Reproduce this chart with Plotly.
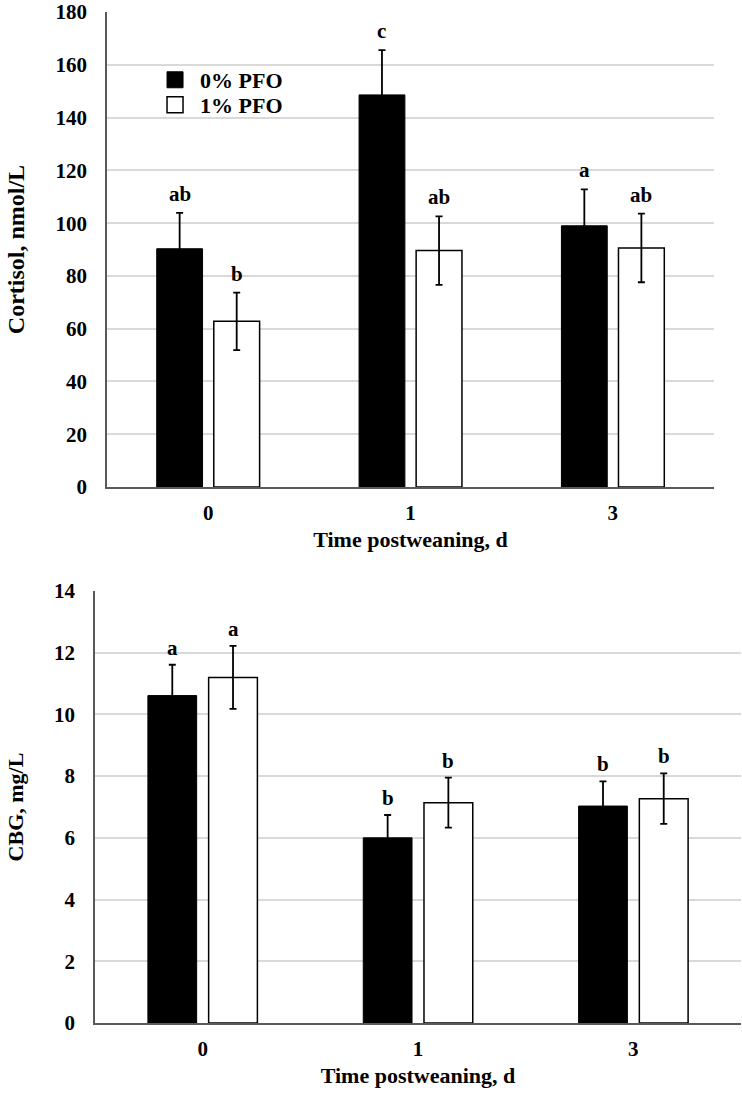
import plotly.graph_objects as go

days = ["0", "1", "3"]
groups = ["0% PFO", "1% PFO"]

cortisol_0 = [90.3, 148.6, 99.0]
cortisol_0_se = [13.6, 17.0, 13.8]
cortisol_1 = [62.8, 89.6, 90.6]
cortisol_1_se = [10.9, 13.0, 13.0]
cortisol_letters_0 = ["ab", "c", "a"]
cortisol_letters_1 = ["b", "ab", "ab"]

cbg_0 = [10.61, 6.0, 7.03]
cbg_0_se = [1.0, 0.74, 0.80]
cbg_1 = [11.2, 7.14, 7.27]
cbg_1_se = [1.02, 0.81, 0.82]
cbg_letters_0 = ["a", "b", "b"]
cbg_letters_1 = ["a", "b", "b"]

FONT = "Liberation Serif, Times New Roman, serif"
AXIS_COLOR = "#595959"
GRID_COLOR = "#d9d9d9"

fig = go.Figure()


def add_bars(vals0, se0, vals1, se1, xa, ya):
    fig.add_trace(go.Bar(
        x=days, y=vals0, name=groups[0], xaxis=xa, yaxis=ya, showlegend=False,
        marker=dict(color="black", line=dict(color="black", width=1)),
        error_y=dict(type="data", array=se0, color="black", thickness=1.8, width=3.5),
    ))
    fig.add_trace(go.Bar(
        x=days, y=vals1, name=groups[1], xaxis=xa, yaxis=ya, showlegend=False,
        marker=dict(color="white", line=dict(color="black", width=1.5)),
        error_y=dict(type="data", array=se1, color="black", thickness=1.8, width=3.5),
    ))


add_bars(cortisol_0, cortisol_0_se, cortisol_1, cortisol_1_se, "x", "y")
add_bars(cbg_0, cbg_0_se, cbg_1, cbg_1_se, "x2", "y2")

# legend entries (two legends so the rows can sit close together)
fig.add_trace(go.Scatter(x=[None], y=[None], mode="markers", name=groups[0], legend="legend",
                         marker=dict(symbol="square", size=16, color="black",
                                     line=dict(color="black", width=1))))
fig.add_trace(go.Scatter(x=[None], y=[None], mode="markers", name=groups[1], legend="legend2",
                         marker=dict(symbol="square", size=16, color="white",
                                     line=dict(color="black", width=1.5))))

OFF = 0.141
annotations = []


def add_letters(vals0, se0, l0, vals1, se1, l1, xa, ya, shift):
    for i in range(len(days)):
        for v, s, l, o in ((vals0[i], se0[i], l0[i], -OFF), (vals1[i], se1[i], l1[i], OFF)):
            annotations.append(dict(
                x=i + o, y=v + s, xref=xa, yref=ya, text=l, showarrow=False,
                yanchor="middle", yshift=shift,
                font=dict(family=FONT, size=21, color="black", weight="bold"),
            ))


add_letters(cortisol_0, cortisol_0_se, cortisol_letters_0,
            cortisol_1, cortisol_1_se, cortisol_letters_1, "x", "y", 19)
add_letters(cbg_0, cbg_0_se, cbg_letters_0,
            cbg_1, cbg_1_se, cbg_letters_1, "x2", "y2", 17)

tickfont = dict(family=FONT, size=21, color="black", weight="bold")
titlefont = dict(family=FONT, size=22, color="black", weight="bold")
ytitlefont_top = dict(family=FONT, size=24, color="black", weight="bold")
legfont = dict(family=FONT, size=22, color="black", weight="bold")

xcommon = dict(type="category", showline=True, linecolor=AXIS_COLOR, linewidth=1.5,
               ticks="", tickfont=tickfont, showgrid=False, zeroline=False,
               automargin=False, ticklabelstandoff=6, title_font=titlefont)
ycommon = dict(showline=True, linecolor=AXIS_COLOR, linewidth=1.5, ticks="",
               tickfont=tickfont, showgrid=True, gridcolor=GRID_COLOR, gridwidth=1.5,
               automargin=False, zeroline=False, ticklabelstandoff=14,
               ticklabeloverflow="allow", title_font=titlefont)

W, H = 742, 1094

fig.update_layout(
    width=W, height=H,
    margin=dict(l=0, r=0, t=0, b=0, autoexpand=False),
    paper_bgcolor="white", plot_bgcolor="white",
    barmode="group", bargap=0.436, bargroupgap=0.197,
    font=dict(family=FONT, color="black"),
    annotations=annotations,
    xaxis=dict(xcommon, domain=[0.1442, 0.9623], anchor="y",
               title=dict(text="Time postweaning, d", standoff=8)),
    yaxis=dict(ycommon, domain=[0.5548, 0.989], anchor="x", range=[0, 180], dtick=20,
               title=dict(text="Cortisol, nmol/L", standoff=24, font=ytitlefont_top)),
    xaxis2=dict(xcommon, domain=[0.128, 0.9987], anchor="y2",
                title=dict(text="Time postweaning, d", standoff=8)),
    yaxis2=dict(ycommon, domain=[0.0649, 0.4598], anchor="x2", range=[0, 14], dtick=2,
                title=dict(text="CBG, mg/L", standoff=24)),
    legend=dict(x=0.2022, y=0.9269, xanchor="left", yanchor="middle",
                bgcolor="rgba(0,0,0,0)", itemwidth=40, font=legfont),
    legend2=dict(x=0.2022, y=0.9040, xanchor="left", yanchor="middle",
                 bgcolor="rgba(0,0,0,0)", itemwidth=40, font=legfont),
    showlegend=True,
)

fig.write_html("out.html", config={"displayModeBar": False},
               post_script="document.body.style.margin='0px';")
